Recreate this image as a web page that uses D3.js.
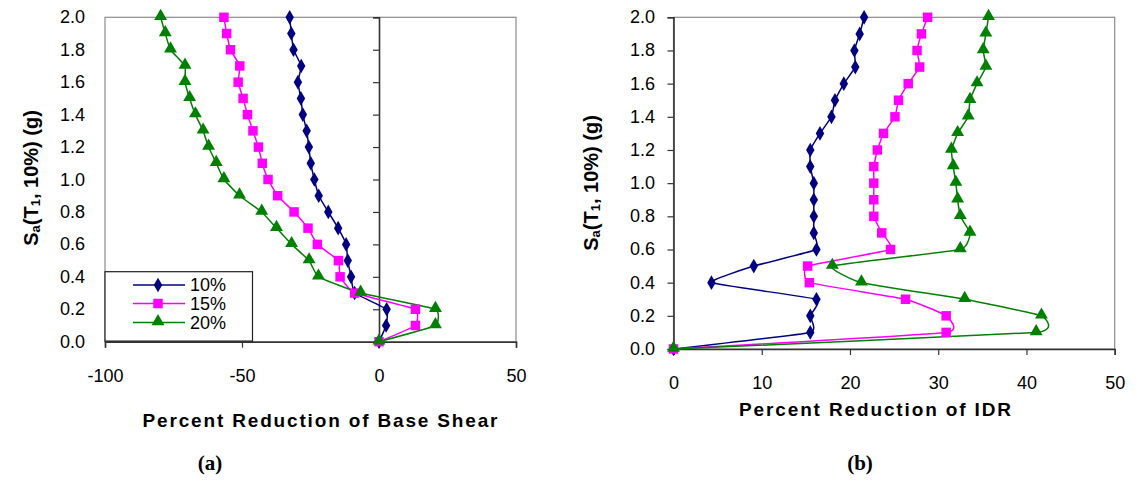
<!DOCTYPE html>
<html><head><meta charset="utf-8">
<script src="https://cdn.jsdelivr.net/npm/d3@7"></script>
<style>body{margin:0;background:#fff}svg{display:block}</style>
</head><body>
<svg id="c" width="1139" height="482"></svg>
<script>
// Sa(T1,10%) levels (g)
const sa = [0.0,0.1,0.2,0.3,0.4,0.5,0.6,0.7,0.8,0.9,1.0,1.1,1.2,1.3,1.4,1.5,1.6,1.7,1.8,1.9,2.0];
const seriesNames = ["10%","15%","20%"];
// (a) Percent reduction of base shear
const bs10 = [0,2.6,2.8,-8.9,-10.2,-11.4,-12.0,-14.9,-18.5,-22.0,-23.6,-24.9,-25.6,-26.4,-27.8,-28.5,-29.6,-28.4,-31.2,-32.0,-32.6];
const bs15 = [0,13.3,13.3,-8.9,-14.2,-14.8,-22.5,-25.9,-31.0,-37.0,-40.5,-42.6,-44.0,-46.0,-48.0,-49.6,-51.4,-50.8,-54.2,-55.6,-56.6];
const bs20 = [0,20.6,20.6,-6.7,-22.1,-25.5,-31.9,-37.4,-42.8,-50.9,-56.6,-59.4,-62.2,-64.2,-67.0,-69.1,-70.8,-70.8,-76.1,-78.0,-79.7];
// (b) Percent reduction of IDR
const idr10 = [0,15.5,15.5,16.2,4.3,9.1,16.2,15.9,15.9,15.9,15.9,15.5,15.5,16.6,17.9,18.3,19.3,20.6,20.5,21.1,21.6];
const idr15 = [0,30.9,30.9,26.3,15.4,15.2,24.6,23.6,22.7,22.7,22.7,22.7,23.1,23.8,25.1,25.5,26.6,27.9,27.6,28.1,28.8];
const idr20 = [0,41.1,41.7,33.0,21.3,18.0,32.5,33.6,32.5,32.2,32.0,31.7,31.5,32.2,33.4,33.6,34.4,35.4,35.1,35.4,35.7];
const yTicks = [0.0,0.2,0.4,0.6,0.8,1.0,1.2,1.4,1.6,1.8,2.0];
const xTicksA = [-100,-50,0,50];
const xTicksB = [0,10,20,30,40,50];
const colors = ["#000080","#FF00FF","#008000"];
const shapes = [d3.symbolDiamond, d3.symbolSquare, d3.symbolTriangle];
const symSize = [62, 90, 72];

const svg = d3.select("#c");
svg.append("rect").attr("width",1139).attr("height",482).attr("fill","#fff");
const FONT = "Liberation Sans, Arial, sans-serif";

function marker(g, i, x, y){
  const s = d3.symbol().type(shapes[i]).size(symSize[i]);
  let sy = y;
  if (i===2) sy = y-1;
  g.append("path").attr("d", s()).attr("transform",`translate(${x},${sy})`).attr("fill",colors[i]).attr("stroke","none");
}

function panel(opt){
  const {x0,x1,y0,y1,xDomain,xTicks,data,yAxisAt,yLabelRight,xLabelY,title,titleX,titleY,titleLen,ytitleX,ytitleY} = opt;
  const x = d3.scaleLinear().domain(xDomain).range([x0,x1]);
  const y = d3.scaleLinear().domain([0,2]).range([y1,y0]);
  const g = svg.append("g");
  // plot border
  g.append("rect").attr("x",x0).attr("y",y0).attr("width",x1-x0).attr("height",y1-y0)
    .attr("fill","none").attr("stroke","#8c8c8c").attr("stroke-width",1.2);
  // x axis
  const xa = d3.axisBottom(x).tickValues(xTicks).tickSize(6).tickFormat(d=>String(d));
  const gx = g.append("g").attr("transform",`translate(0,${y1})`).call(xa);
  gx.select(".domain").attr("stroke","#333").attr("stroke-width",1.6);
  gx.selectAll(".tick line").attr("stroke","#333").attr("stroke-width",1.2);
  gx.selectAll(".tick text").attr("font-family",FONT).attr("font-size",18).attr("fill","#000")
    .attr("y",null).attr("dy",null).attr("transform",`translate(0,${xLabelY-y1})`).attr("dominant-baseline","central");
  // y axis line at yAxisAt
  const ax = x(yAxisAt);
  const ya = d3.axisLeft(y).tickValues(yTicks).tickSize(6).tickFormat("");
  const gy = g.append("g").attr("transform",`translate(${ax},0)`).call(ya);
  gy.select(".domain").attr("stroke","#333").attr("stroke-width",1.6);
  gy.selectAll(".tick line").attr("stroke","#333").attr("stroke-width",1.2);
  // y tick labels (low position)
  g.selectAll(".ylab").data(yTicks).join("text")
    .attr("x",yLabelRight).attr("y",d=>y(d)).attr("text-anchor","end").attr("dominant-baseline","central")
    .attr("font-family",FONT).attr("font-size",18).attr("fill","#000").text(d=>d.toFixed(1));
  // series
  const line = d3.line().x(d=>x(d[0])).y(d=>y(d[1])).curve(d3.curveCardinal.tension(0.65));
  data.forEach((vals,i)=>{
    const pts = vals.map((v,k)=>[v,sa[k]]);
    g.append("path").attr("d",line(pts)).attr("fill","none").attr("stroke",colors[i]).attr("stroke-width",1.5);
  });
  data.forEach((vals,i)=>{
    vals.forEach((v,k)=>marker(g,i,x(v),y(sa[k])));
  });
  // x title
  g.append("text").attr("x",titleX).attr("y",titleY).attr("text-anchor","middle").attr("dominant-baseline","central")
    .attr("font-family",FONT).attr("font-weight","bold").attr("font-size",19)
    .attr("textLength",titleLen).attr("lengthAdjust","spacing").text(title);
  // y title
  const t = g.append("text").attr("transform",`translate(${ytitleX},${ytitleY}) rotate(-90)`)
    .attr("text-anchor","middle").attr("dominant-baseline","central")
    .attr("font-family",FONT).attr("font-weight","bold").attr("font-size",20);
  t.append("tspan").text("S");
  t.append("tspan").attr("font-size",13).attr("dy",4).text("a");
  t.append("tspan").attr("dy",-4).text("(T");
  t.append("tspan").attr("font-size",13).attr("dy",4).text("1");
  t.append("tspan").attr("dy",-4).text(", 10%) (g)");
  return {x,y,g};
}

const A = panel({x0:105,x1:516,y0:17.3,y1:341.7,xDomain:[-100,50],xTicks:xTicksA,data:[bs10,bs15,bs20],
  yAxisAt:0,yLabelRight:85,xLabelY:376,title:"Percent Reduction of Base Shear",titleX:320,titleY:420,titleLen:355,
  ytitleX:31,ytitleY:178});
const B = panel({x0:673.5,x1:1114.7,y0:17.3,y1:349,xDomain:[0,50],xTicks:xTicksB,data:[idr10,idr15,idr20],
  yAxisAt:0,yLabelRight:655,xLabelY:383,title:"Percent Reduction of IDR",titleX:875,titleY:409,titleLen:272,
  ytitleX:591,ytitleY:183});

// legend in panel (a)
const lg = svg.append("g");
lg.append("rect").attr("x",105).attr("y",271.7).attr("width",147.5).attr("height",69.5)
  .attr("fill","#fff").attr("stroke","#222").attr("stroke-width",1.2);
const rows = [285,303.5,322.5];
seriesNames.forEach((n,i)=>{
  lg.append("line").attr("x1",133).attr("x2",185).attr("y1",rows[i]).attr("y2",rows[i]).attr("stroke",colors[i]).attr("stroke-width",1.5);
  marker(lg,i,158,rows[i]);
  lg.append("text").attr("x",190).attr("y",rows[i]).attr("dominant-baseline","central")
    .attr("font-family",FONT).attr("font-size",18).attr("fill","#000").text(n);
});
// redraw x axis line over legend bottom
svg.append("line").attr("x1",105).attr("x2",252.5).attr("y1",341.7).attr("y2",341.7).attr("stroke","#333").attr("stroke-width",2);

// panel captions
svg.append("text").attr("x",210).attr("y",463).attr("text-anchor","middle").attr("dominant-baseline","central")
  .attr("font-family","Liberation Serif, Times New Roman, serif").attr("font-weight","bold").attr("font-size",21).text("(a)");
svg.append("text").attr("x",860).attr("y",463).attr("text-anchor","middle").attr("dominant-baseline","central")
  .attr("font-family","Liberation Serif, Times New Roman, serif").attr("font-weight","bold").attr("font-size",21).text("(b)");
</script>
</body></html>
